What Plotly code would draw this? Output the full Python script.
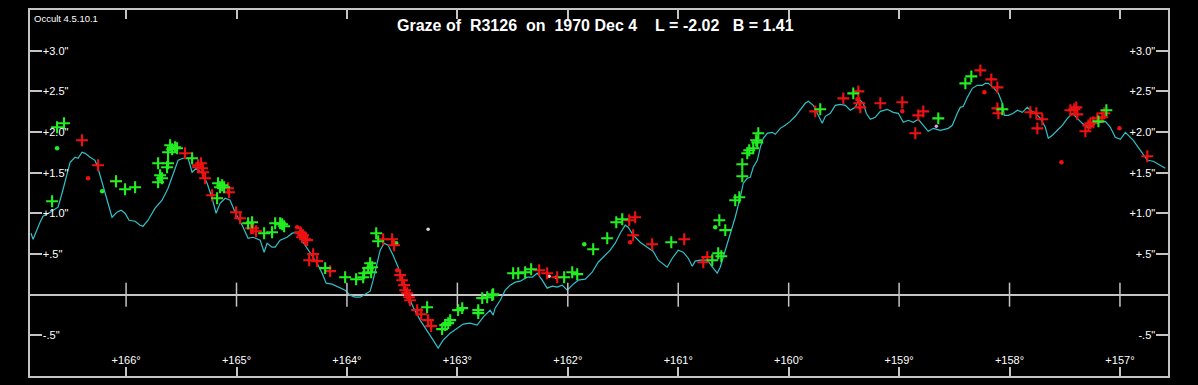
import plotly.graph_objects as go

# ---------------- data ----------------
profile_lon = [166.861, 166.842, 166.779, 166.752, 166.688, 166.616, 166.580, 166.534, 166.507, 166.462,
               166.435, 166.399, 166.371, 166.326, 166.281, 166.254, 166.217, 166.172, 166.127, 166.082,
               166.045, 166.009, 165.973, 165.918, 165.873, 165.846, 165.801, 165.737, 165.674, 165.620,
               165.574, 165.529, 165.484, 165.438, 165.402, 165.366, 165.312, 165.266, 165.221, 165.185,
               165.149, 165.103, 165.058, 165.013, 164.949, 164.895, 164.850, 164.786, 164.750, 164.723,
               164.678, 164.650, 164.605, 164.542, 164.496, 164.442, 164.397, 164.333, 164.270, 164.225,
               164.188, 164.134, 164.080, 164.016, 163.971, 163.926, 163.880, 163.835, 163.790, 163.763,
               163.726, 163.699, 163.663, 163.627, 163.582, 163.536, 163.491, 163.446, 163.400, 163.337,
               163.274, 163.219, 163.174, 163.129, 163.065, 163.002, 162.947, 162.884, 162.821, 162.766,
               162.703, 162.676, 162.658, 162.612, 162.567, 162.522, 162.476, 162.431, 162.368, 162.322,
               162.277, 162.232, 162.187, 162.141, 162.096, 162.051, 162.005, 161.960, 161.906, 161.842,
               161.779, 161.725, 161.679, 161.616, 161.571, 161.525, 161.480, 161.453, 161.408, 161.344,
               161.281, 161.227, 161.181, 161.136, 161.100, 161.054, 161.000, 160.955, 160.909, 160.873,
               160.846, 160.801, 160.737, 160.683, 160.647, 160.620, 160.574, 160.529, 160.484, 160.438,
               160.411, 160.375, 160.348, 160.321, 160.284, 160.257, 160.230, 160.194, 160.149, 160.121,
               160.076, 160.031, 159.986, 159.940, 159.895, 159.850, 159.822, 159.777, 159.741, 159.696,
               159.668, 159.623, 159.578, 159.533, 159.487, 159.442, 159.397, 159.361, 159.324, 159.297,
               159.261, 159.216, 159.170, 159.107, 159.053, 159.007, 158.962, 158.917, 158.871, 158.826,
               158.781, 158.736, 158.690, 158.627, 158.554, 158.518, 158.473, 158.446, 158.418, 158.382,
               158.337, 158.292, 158.246, 158.219, 158.192, 158.147, 158.101, 158.065, 158.047, 158.011,
               157.966, 157.929, 157.884, 157.839, 157.812, 157.766, 157.721, 157.676, 157.649, 157.612,
               157.567, 157.522, 157.476, 157.431, 157.386, 157.341, 157.295, 157.268, 157.223, 157.178,
               157.132, 157.087, 157.042, 156.996, 156.951, 156.879, 156.815, 156.752, 156.698, 156.634,
               156.589]
profile_y = [0.756, 0.682, 0.891, 0.964, 1.014, 1.075, 1.247, 1.505, 1.628, 1.689,
             1.677, 1.751, 1.738, 1.689, 1.652, 1.554, 1.382, 1.161, 0.952, 1.014,
             1.038, 1.001, 0.915, 0.903, 0.854, 0.842, 0.915, 1.063, 1.161, 1.308,
             1.493, 1.652, 1.677, 1.677, 1.505, 1.554, 1.493, 1.370, 1.186, 1.001,
             1.124, 1.186, 1.161, 1.014, 0.854, 0.694, 0.706, 0.670, 0.522, 0.633,
             0.584, 0.584, 0.670, 0.706, 0.756, 0.768, 0.645, 0.522, 0.387, 0.264,
             0.141, 0.129, 0.092, 0.055, -0.006, -0.031, -0.031, 0.006, 0.043, 0.178,
             0.387, 0.547, 0.633, 0.608, 0.485, 0.338, 0.141, -0.006, -0.154, -0.313,
             -0.436, -0.559, -0.657, -0.559, -0.473, -0.412, -0.362, -0.350, -0.375, -0.276,
             -0.190, -0.252, -0.166, -0.068, 0.055, 0.117, 0.154, 0.166, 0.215, 0.215,
             0.264, 0.178, 0.080, 0.104, 0.092, 0.117, 0.055, 0.117, 0.178, 0.190,
             0.276, 0.399, 0.461, 0.547, 0.633, 0.756, 0.854, 0.829, 0.731, 0.645,
             0.584, 0.534, 0.424, 0.375, 0.338, 0.448, 0.547, 0.522, 0.448, 0.350,
             0.412, 0.424, 0.424, 0.326, 0.264, 0.338, 0.547, 0.756, 0.952, 1.198,
             1.370, 1.431, 1.443, 1.566, 1.652, 1.812, 1.923, 1.984, 1.996, 1.972,
             2.045, 2.082, 2.131, 2.193, 2.279, 2.353, 2.377, 2.328, 2.230, 2.107,
             2.193, 2.230, 2.328, 2.340, 2.328, 2.267, 2.303, 2.402, 2.353, 2.230,
             2.156, 2.181, 2.254, 2.279, 2.242, 2.230, 2.119, 2.144, 2.119, 2.156,
             2.082, 2.009, 2.045, 2.021, 2.045, 2.082, 2.230, 2.303, 2.316, 2.426,
             2.537, 2.574, 2.574, 2.598, 2.598, 2.549, 2.475, 2.353, 2.205, 2.205,
             2.230, 2.267, 2.242, 2.303, 2.267, 2.230, 2.168, 2.058, 1.923, 1.959,
             2.021, 2.082, 2.168, 2.230, 2.168, 2.107, 2.058, 2.058, 2.107, 2.119,
             2.131, 2.058, 1.935, 1.910, 1.996, 1.898, 1.775, 1.652, 1.640, 1.591,
             1.554]

green_plus_lon = [166.625, 166.562, 166.670, 166.091, 166.009, 165.918, 165.710, 165.629, 165.620, 165.692,
                  165.674, 165.710, 165.601, 165.556, 165.620, 165.583, 165.538, 165.402, 165.167, 165.130,
                  165.112, 165.149, 165.176, 164.895, 164.859, 164.750, 164.678, 164.650, 164.587, 164.569,
                  164.605, 164.197, 164.016, 163.917, 163.853, 163.844, 163.808, 163.790, 163.781, 163.772,
                  163.735, 163.717, 163.274, 163.138, 163.110, 163.065, 163.083, 162.993, 162.956, 162.811,
                  162.811, 162.775, 162.730, 162.685, 162.676, 162.495, 162.449, 162.386, 162.332, 162.033,
                  161.960, 161.915, 161.770, 161.643, 161.561, 161.507, 161.063, 160.692, 160.638, 160.610,
                  160.628, 160.574, 160.484, 160.447, 160.420, 160.420, 160.375, 160.357, 160.321, 160.294,
                  160.284, 160.275, 159.714, 159.415, 158.645, 158.400, 158.346, 158.065, 157.195, 157.123]
green_plus_y = [2.058, 2.107, 1.149, 1.394, 1.296, 1.321, 1.615, 1.566, 1.615, 1.468,
                1.431, 1.382, 1.837, 1.812, 1.751, 1.787, 1.800, 1.677, 1.370, 1.345,
                1.321, 1.321, 1.186, 0.878, 0.891, 0.756, 0.768, 0.878, 0.866, 0.842,
                0.878, 0.326, 0.215, 0.190, 0.215, 0.264, 0.326, 0.387, 0.276, 0.338,
                0.756, 0.657, -0.154, -0.424, -0.375, -0.313, -0.350, -0.190, -0.166, -0.190,
                -0.227, -0.043, -0.031, -0.006, 0.006, 0.264, 0.264, 0.276, 0.313, 0.215,
                0.276, 0.252, 0.559, 0.694, 0.891, 0.928, 0.645, 0.424, 0.510, 0.473,
                0.915, 0.793, 1.161, 1.198, 1.456, 1.603, 1.738, 1.775, 1.800, 1.898,
                1.873, 1.984, 2.279, 2.475, 2.168, 2.598, 2.684, 2.279, 2.131, 2.267]

red_plus_lon = [166.399, 166.254, 166.091, 165.466, 165.348, 165.321, 165.312, 165.302, 165.284, 165.348,
                165.076, 165.067, 165.221, 165.004, 164.967, 164.868, 164.850, 164.823, 164.424, 164.397,
                164.406, 164.379, 164.360, 164.415, 164.306, 164.342, 164.270, 164.152, 163.672, 163.591,
                163.573, 163.518, 163.500, 163.482, 163.473, 163.455, 163.437, 163.428, 163.364, 163.328,
                163.265, 163.237, 162.259, 162.187, 162.096, 161.444, 161.390, 161.408, 161.236, 160.946,
                160.773, 160.737, 159.759, 159.505, 159.369, 159.360, 159.351, 159.170, 158.971, 158.781,
                158.826, 158.853, 158.264, 158.165, 158.110, 158.110, 158.101, 157.811, 157.757, 157.703,
                157.748, 157.449, 157.395, 157.386, 157.413, 157.313, 157.286, 157.241, 157.205, 157.160,
                157.142, 157.268, 156.752]
red_plus_y = [1.898, 1.591, 1.394, 1.738, 1.591, 1.615, 1.554, 1.505, 1.431, 1.566,
              1.308, 1.259, 1.222, 1.014, 0.940, 0.817, 0.817, 0.780, 0.768, 0.731,
              0.706, 0.682, 0.670, 0.756, 0.498, 0.424, 0.412, 0.289, 0.682, 0.682,
              0.608, 0.240, 0.178, 0.117, 0.055, 0.018, -0.031, -0.068, -0.190, -0.240,
              -0.313, -0.387, 0.301, 0.264, 0.215, 0.915, 0.952, 0.731, 0.620, 0.682,
              0.399, 0.461, 2.254, 2.414, 2.500, 2.353, 2.303, 2.353, 2.365, 2.254,
              2.205, 1.984, 2.758, 2.647, 2.549, 2.291, 2.230, 2.242, 2.230, 2.156,
              2.045, 2.267, 2.303, 2.217, 2.279, 2.009, 2.082, 2.119, 2.168, 2.181,
              2.230, 2.107, 1.701]

red_dot_lon = [166.344, 164.451, 163.545, 161.435, 159.378, 158.971, 158.228, 157.530, 157.005]
red_dot_y = [1.431, 0.829, 0.301, 0.645, 2.402, 2.254, 2.488, 1.628, 2.045]

green_dot_lon = [166.625, 166.217, 163.554, 161.851, 160.665]
green_dot_y = [1.800, 1.271, 0.633, 0.620, 0.829]

white_dot_lon = [163.265, 162.169, 162.105, 158.663]
white_dot_y = [0.805, 0.227, 0.215, 2.070]
white_dot_colors = ['#d8d8d8', '#f0d0d0', '#f0d0d0', '#e0a0e0']

lon_ticks = [166, 165, 164, 163, 162, 161, 160, 159, 158, 157]
lon_labels = ['+166°', '+165°', '+164°', '+163°', '+162°', '+161°', '+160°', '+159°', '+158°', '+157°']
y_ticks = [3.0, 2.5, 2.0, 1.5, 1.0, 0.5, -0.5]
y_labels = ['+3.0"', '+2.5"', '+2.0"', '+1.5"', '+1.0"', '+.5"', '-.5"']

title_text = 'Graze of  R3126  on  1970 Dec 4    L = -2.02   B = 1.41'
version_text = 'Occult 4.5.10.1'

# ---------------- figure ----------------
FRAME = '#c4c4c4'
FONT = 'Liberation Sans, Arial, sans-serif'

fig = go.Figure()
fig.add_trace(go.Scatter(x=profile_lon, y=profile_y, mode='lines',
                         line=dict(color='#2fc2c8', width=1.2), hoverinfo='skip'))
fig.add_trace(go.Scatter(x=green_dot_lon, y=green_dot_y, mode='markers',
                         marker=dict(symbol='circle', size=4.5, color='#22ee22'), hoverinfo='skip'))
fig.add_trace(go.Scatter(x=red_dot_lon, y=red_dot_y, mode='markers',
                         marker=dict(symbol='circle', size=4.5, color='#ee1111'), hoverinfo='skip'))
fig.add_trace(go.Scatter(x=white_dot_lon, y=white_dot_y, mode='markers',
                         marker=dict(symbol='circle', size=3.5, color=white_dot_colors), hoverinfo='skip'))
fig.add_trace(go.Scatter(x=red_plus_lon, y=red_plus_y, mode='markers',
                         marker=dict(symbol='cross-thin', size=8.5,
                                     line=dict(color='#ee1111', width=2.1)), hoverinfo='skip'))
fig.add_trace(go.Scatter(x=green_plus_lon, y=green_plus_y, mode='markers',
                         marker=dict(symbol='cross-thin', size=8.5,
                                     line=dict(color='#22ee22', width=2.1)), hoverinfo='skip'))
# invisible trace to carry the right-hand axis
fig.add_trace(go.Scatter(x=[lon_ticks[0]], y=[y_ticks[0]], yaxis='y2', mode='markers',
                         marker=dict(opacity=0), hoverinfo='skip'))

tickfont = dict(color='white', size=11, family=FONT)

shapes = []
for v in lon_ticks:
    shapes.append(dict(type='line', xref='x', yref='y', x0=v, x1=v,
                       ysizemode='pixel', yanchor=0, y0=-12, y1=12,
                       line=dict(color=FRAME, width=1.5)))

fig.update_layout(
    width=1198, height=385,
    paper_bgcolor='black', plot_bgcolor='black',
    margin=dict(l=30, r=30, t=10, b=9),
    showlegend=False,
    xaxis=dict(range=[166.87, 156.565], tickmode='array', tickvals=lon_ticks, ticktext=lon_labels,
               ticks='inside', ticklen=9, tickwidth=1.5, tickcolor=FRAME,
               ticklabelposition='inside', tickfont=tickfont,
               showgrid=False, zeroline=False,
               showline=True, mirror='ticks', linecolor=FRAME, linewidth=2),
    yaxis=dict(range=[-1.0, 3.5], tickmode='array', tickvals=y_ticks, ticktext=y_labels,
               ticks='inside', ticklen=12, tickwidth=2, tickcolor=FRAME,
               ticklabelposition='inside', tickfont=tickfont,
               showgrid=False, zeroline=True, zerolinecolor=FRAME, zerolinewidth=1.5,
               showline=True, mirror=True, linecolor=FRAME, linewidth=2),
    yaxis2=dict(range=[-1.0, 3.5], overlaying='y', side='right', tickmode='array',
                tickvals=y_ticks, ticktext=y_labels,
                ticks='inside', ticklen=12, tickwidth=2, tickcolor=FRAME,
                ticklabelposition='inside', tickfont=tickfont,
                showgrid=False, zeroline=False, showline=False),
    shapes=shapes,
    annotations=[
        dict(text='<b>' + title_text.replace(' ', '\u00a0') + '</b>', xref='paper', yref='paper',
             x=0.4965, y=0.959, xanchor='center', yanchor='middle', showarrow=False,
             font=dict(color='white', size=16, family=FONT)),
        dict(text=version_text, xref='paper', yref='paper', x=0.002, y=0.978,
             xanchor='left', yanchor='middle', showarrow=False,
             font=dict(color='white', size=9.5, family=FONT)),
    ],
)

fig.write_html('out.html', config={'displayModeBar': False},
               post_script="document.body.style.margin='0px';document.body.style.overflow='hidden';")
